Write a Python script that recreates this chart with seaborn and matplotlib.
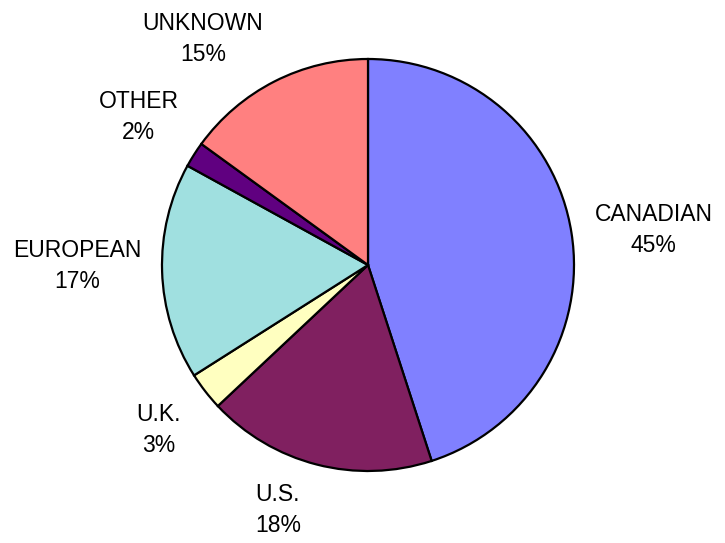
import seaborn as sns
import matplotlib.pyplot as plt

# shares by origin, clockwise from 12 o'clock
origins = ['CANADIAN', 'U.S.', 'U.K.', 'EUROPEAN', 'OTHER', 'UNKNOWN']
shares = [45, 18, 3, 17, 2, 15]
colors = ['#8080FF', '#802060', '#FFFFC0', '#A0E0E0', '#600080', '#FF8080']

# label centres in units of the pie radius (layout only)
label_xy = [(1.388, 0.170), (-0.437, -1.189), (-1.015, -0.801),
            (-1.413, -0.005), (-1.112, 0.718), (-0.801, 1.097)]

sns.set_style('white')
plt.rcParams['font.family'] = ['Liberation Sans', 'DejaVu Sans']

fig = plt.figure(figsize=(7.25, 5.43), dpi=100)
ax = fig.add_axes([0, 0, 1, 1])

labels = [f'{o}\n{s}%' for o, s in zip(origins, shares)]
wedges, texts = ax.pie(shares,
                       labels=labels,
                       colors=colors,
                       startangle=90,
                       counterclock=False,
                       radius=1,
                       wedgeprops=dict(edgecolor='black', linewidth=1.6),
                       textprops=dict(fontsize=16.5, color='black',
                                      ha='center', va='center',
                                      multialignment='center', linespacing=1.4))
for t, xy in zip(texts, label_xy):
    t.set_position(xy)

# map the figure so one unit = 206 px, pie centre at (368, 265) px
ax.set_aspect('auto')
ax.set_xlim(-368 / 206, (725 - 368) / 206)
ax.set_ylim(-(543 - 265) / 206, 265 / 206)
ax.axis('off')

plt.savefig('out.png', dpi=100)
plt.close()
